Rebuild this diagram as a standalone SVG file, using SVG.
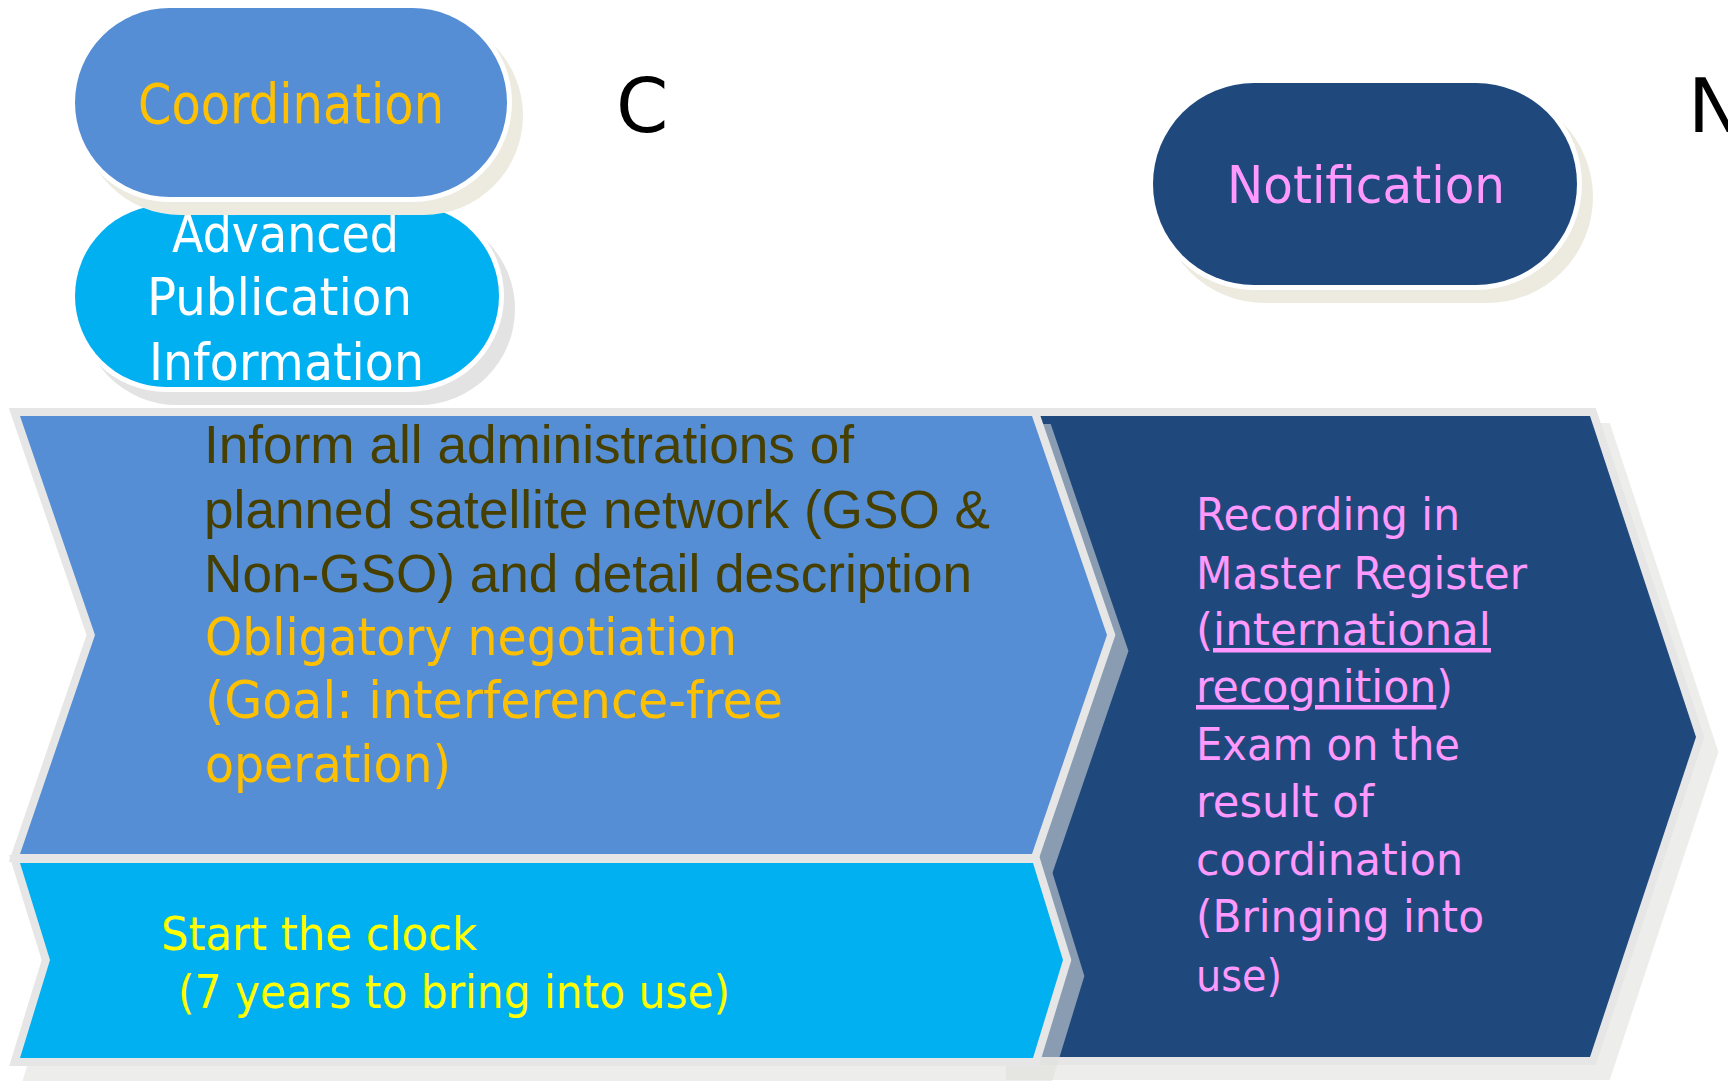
<svg xmlns="http://www.w3.org/2000/svg" width="1728" height="1081" viewBox="0 0 1728 1081">
<style>
.gb{stroke:#e6e6e6;stroke-width:16;stroke-linejoin:miter;paint-order:stroke}
.sh{fill:#e0e0dc;stroke:#e0e0dc;stroke-width:16;stroke-linejoin:miter}
.pill{stroke:#ffffff;stroke-width:10;paint-order:stroke}
.t{font-family:"DejaVu Sans","Noto Sans",sans-serif}
.a{font-family:"Liberation Sans",Arial,sans-serif}
</style>
<rect width="1728" height="1081" fill="#ffffff"/>

<g id="notification-stage">
  <g opacity="0.55" transform="translate(14,15)">
    <polygon class="sh" points="1000,416 1590,416 1696,737 1590,1057 1000,1057"/>
  </g>
  <polygon class="gb" fill="#1f497d" points="1000,416 1590,416 1696,737 1590,1057 1000,1057"/>
  <text class="t" font-size="45" fill="#ff99ff" lengthAdjust="spacingAndGlyphs">
    <tspan x="1196" y="530" textLength="264" lengthAdjust="spacingAndGlyphs">Recording in</tspan>
  </text>
  <text class="t" font-size="45" fill="#ff99ff" x="1196" y="589" textLength="331" lengthAdjust="spacingAndGlyphs">Master Register</text>
  <text class="t" font-size="45" fill="#ff99ff" x="1196" y="645" textLength="295" lengthAdjust="spacingAndGlyphs">(<tspan text-decoration="underline">international</tspan></text>
  <text class="t" font-size="45" fill="#ff99ff" x="1196" y="702" textLength="257" lengthAdjust="spacingAndGlyphs"><tspan text-decoration="underline">recognition</tspan>)</text>
  <text class="t" font-size="45" fill="#ff99ff" x="1196" y="760" textLength="264" lengthAdjust="spacingAndGlyphs">Exam on the</text>
  <text class="t" font-size="45" fill="#ff99ff" x="1196" y="817" textLength="178" lengthAdjust="spacingAndGlyphs">result of</text>
  <text class="t" font-size="45" fill="#ff99ff" x="1196" y="875" textLength="267" lengthAdjust="spacingAndGlyphs">coordination</text>
  <text class="t" font-size="45" fill="#ff99ff" x="1196" y="932" textLength="288" lengthAdjust="spacingAndGlyphs">(Bringing into</text>
  <text class="t" font-size="45" fill="#ff99ff" x="1196" y="991" textLength="86" lengthAdjust="spacingAndGlyphs">use)</text>
</g>

<g id="left-stages-shadow" opacity="0.55" transform="translate(13,16)">
  <polygon class="sh" points="20,416 1032,416 1107,635 1032,854 20,854 95,635"/>
  <polygon class="sh" points="20,863 1033,863 1063,960 1033,1058 20,1058 50,960"/>
</g>

<g id="coordination-stage">
  <polygon class="gb" fill="#558ed5" points="20,416 1032,416 1107,635 1032,854 20,854 95,635"/>
  <text class="a" font-size="53" fill="#463f00" x="204" y="463" textLength="650" lengthAdjust="spacingAndGlyphs">Inform all administrations of</text>
  <text class="a" font-size="53" fill="#463f00" x="204" y="528" textLength="786" lengthAdjust="spacingAndGlyphs">planned satellite network (GSO &amp;</text>
  <text class="a" font-size="53" fill="#463f00" x="204" y="592" textLength="768" lengthAdjust="spacingAndGlyphs">Non-GSO) and detail description</text>
  <text class="t" font-size="51" fill="#ffc000" x="205" y="655" textLength="532" lengthAdjust="spacingAndGlyphs">Obligatory negotiation</text>
  <text class="t" font-size="51" fill="#ffc000" x="205" y="718" textLength="578" lengthAdjust="spacingAndGlyphs">(Goal: interference-free</text>
  <text class="t" font-size="51" fill="#ffc000" x="205" y="782" textLength="246" lengthAdjust="spacingAndGlyphs">operation)</text>
</g>

<g id="api-stage">
  <polygon class="gb" fill="#00b0f0" points="20,863 1033,863 1063,960 1033,1058 20,1058 50,960"/>
  <text class="t" font-size="47" fill="#ffff00" x="161" y="950" textLength="316" lengthAdjust="spacingAndGlyphs">Start the clock</text>
  <text class="t" font-size="47" fill="#ffff00" x="178" y="1008" textLength="552" lengthAdjust="spacingAndGlyphs">(7 years to bring into use)</text>
</g>

<g id="api-pill">
  <rect x="81" y="213" width="434" height="192" rx="96" fill="#e3e3e3"/>
  <rect class="pill" x="75" y="205" width="424" height="182" rx="91" fill="#00b0f0"/>
  <text class="t" font-size="52" fill="#ffffff" x="172" y="252" textLength="227" lengthAdjust="spacingAndGlyphs">Advanced</text>
  <text class="t" font-size="52" fill="#ffffff" x="147" y="315" textLength="265" lengthAdjust="spacingAndGlyphs">Publication</text>
  <text class="t" font-size="52" fill="#ffffff" x="149" y="380" textLength="275" lengthAdjust="spacingAndGlyphs">Information</text>
</g>

<g id="coordination-pill">
  <rect x="81" y="16" width="442" height="199" rx="99.5" fill="#edebe0"/>
  <rect class="pill" x="75" y="8" width="432" height="189" rx="94.5" fill="#558ed5"/>
  <text class="t" font-size="55" fill="#ffc000" x="138" y="123" textLength="306" lengthAdjust="spacingAndGlyphs">Coordination</text>
</g>

<g id="notification-pill">
  <rect x="1159" y="91" width="434" height="212" rx="106" fill="#edebe0"/>
  <rect class="pill" x="1153" y="83" width="424" height="202" rx="101" fill="#1f497d"/>
  <text class="t" font-size="51" fill="#ff99ff" x="1227" y="203" textLength="278" lengthAdjust="spacingAndGlyphs">Notification</text>
</g>

<g id="labels">
  <text class="t" font-size="75" fill="#000000" x="616" y="132">C</text>
  <text class="t" font-size="75" fill="#000000" x="1688" y="132">N</text>
</g>

<g id="connectors"/>
</svg>
